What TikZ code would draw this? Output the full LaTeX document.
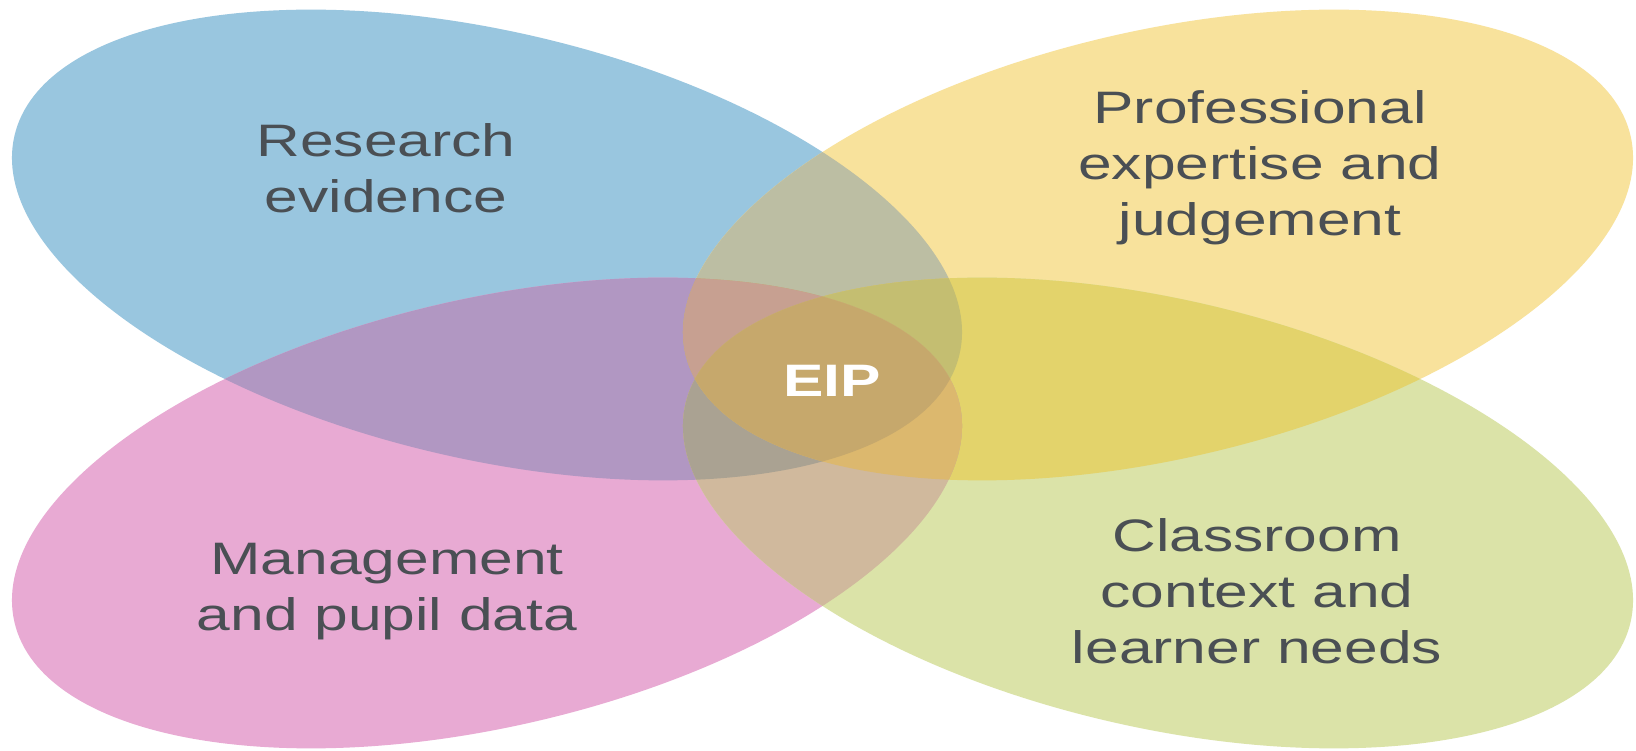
\documentclass[tikz,border=0pt]{standalone}
\usepackage{fontspec}
\setmainfont{Liberation Sans}[FakeStretch=1.33]
\definecolor{cB}{RGB}{153,198,223}
\definecolor{cY}{RGB}{248,226,156}
\definecolor{cP}{RGB}{232,170,211}
\definecolor{cG}{RGB}{219,227,168}
\definecolor{cBP}{RGB}{177,151,194}
\definecolor{cYG}{RGB}{227,211,107}
\definecolor{cBY}{RGB}{188,190,163}
\definecolor{cPG}{RGB}{208,185,157}
\definecolor{cBYP}{RGB}{199,160,145}
\definecolor{cBYG}{RGB}{196,190,113}
\definecolor{cBPG}{RGB}{170,162,146}
\definecolor{cYPG}{RGB}{220,184,110}
\definecolor{cQ}{RGB}{198,168,108}
\definecolor{txt}{RGB}{74,79,84}
\def\ovl{(0,0) ellipse [x radius=485, y radius=214]}
\begin{document}
\begin{tikzpicture}[x=1pt,y=1pt,
  eB/.style={shift={(487,505)},rotate=-13},
  eY/.style={shift={(1158,505)},rotate=13},
  eP/.style={shift={(487,237)},rotate=13},
  eG/.style={shift={(1158,237)},rotate=-13},
  lab/.style={anchor=base, text=txt, inner sep=0pt, font=\fontsize{45.5}{54}\selectfont}]
\useasboundingbox (0,0) rectangle (1636,750);
\fill[white] (0,0) rectangle (1636,750);
% single petals
\fill[cB,eB] \ovl;
\fill[cY,eY] \ovl;
\fill[cP,eP] \ovl;
\fill[cG,eG] \ovl;
% pairwise overlaps
\begin{scope}\clip[eB] \ovl; \fill[cBP,eP] \ovl; \end{scope}
\begin{scope}\clip[eB] \ovl; \fill[cBY,eY] \ovl; \end{scope}
\begin{scope}\clip[eB] \ovl; \fill[cQ,eG] \ovl; \end{scope}
\begin{scope}\clip[eY] \ovl; \fill[cYG,eG] \ovl; \end{scope}
\begin{scope}\clip[eY] \ovl; \fill[cQ,eP] \ovl; \end{scope}
\begin{scope}\clip[eP] \ovl; \fill[cPG,eG] \ovl; \end{scope}
% triple overlaps
\begin{scope}\clip[eB] \ovl; \clip[eY] \ovl; \fill[cBYP,eP] \ovl; \end{scope}
\begin{scope}\clip[eB] \ovl; \clip[eY] \ovl; \fill[cBYG,eG] \ovl; \end{scope}
\begin{scope}\clip[eB] \ovl; \clip[eP] \ovl; \fill[cBPG,eG] \ovl; \end{scope}
\begin{scope}\clip[eY] \ovl; \clip[eP] \ovl; \fill[cYPG,eG] \ovl; \end{scope}
% all four
\begin{scope}\clip[eB] \ovl; \clip[eY] \ovl; \clip[eP] \ovl; \fill[cQ,eG] \ovl; \end{scope}
% labels
\node[lab] (r1) at (386,593) {Research};
\node[lab] (r2) at (386,537) {evidence};
\node[lab] (p1) at (1260,626) {Professional};
\node[lab] (p2) at (1260,570) {expertise and};
\node[lab] (p3) at (1260,514) {judgement};
\node[lab] (m1) at (387,175) {Management};
\node[lab] (m2) at (387,119) {and pupil data};
\node[lab] (c1) at (1257,198) {Classroom};
\node[lab] (c2) at (1257,142) {context and};
\node[lab] (c3) at (1257,86) {learner needs};
\node[lab, text=white, font=\fontsize{45.5}{54}\selectfont\bfseries] (eip) at (832,353) {EIP};
\end{tikzpicture}
\end{document}
